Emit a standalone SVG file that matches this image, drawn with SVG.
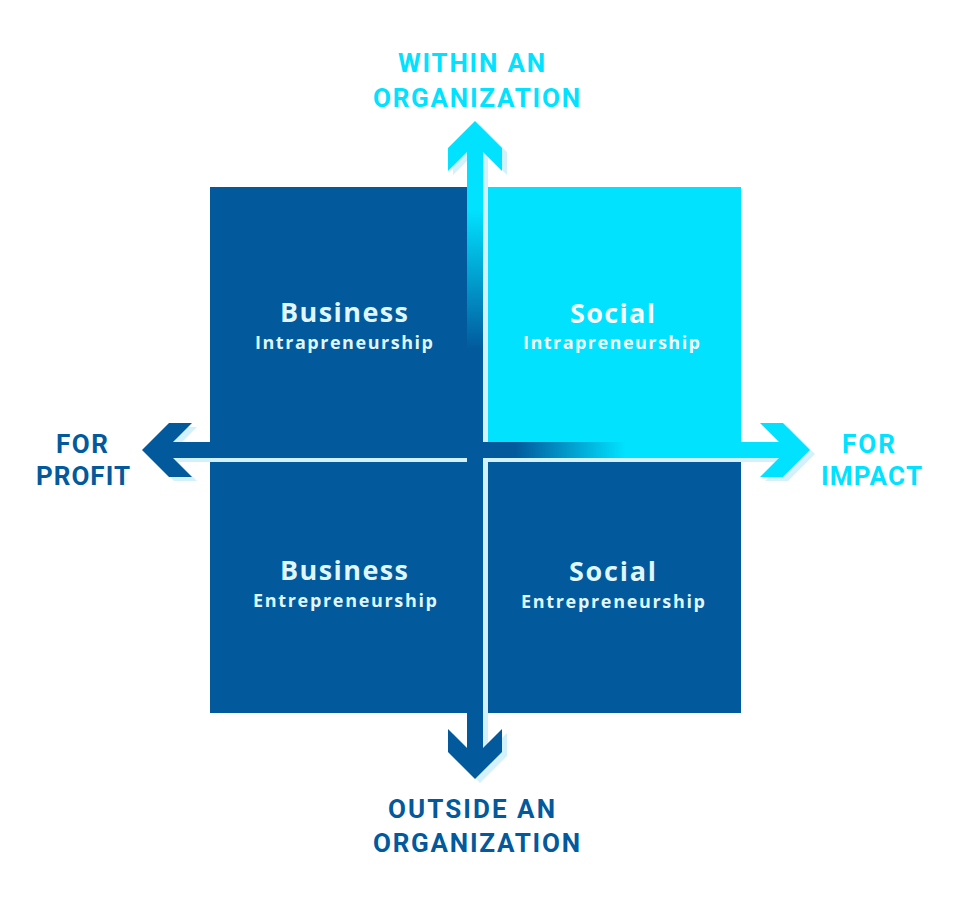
<svg xmlns="http://www.w3.org/2000/svg" width="957" height="907" viewBox="0 0 957 907">
  <defs>
    <linearGradient id="gv" gradientUnits="userSpaceOnUse" x1="0" y1="210" x2="0" y2="350">
      <stop offset="0" stop-color="#00e2ff"/>
      <stop offset="1" stop-color="#02599c"/>
    </linearGradient>
    <linearGradient id="gh" gradientUnits="userSpaceOnUse" x1="515" y1="0" x2="625" y2="0">
      <stop offset="0" stop-color="#02599c"/>
      <stop offset="1" stop-color="#00e2ff"/>
    </linearGradient>
    <polygon id="varrow" points="475,121 502,148 502,171 483,152 483,748 502,729 502,752 475,779 448,752 448,729 467,748 467,152 448,171 448,148"/>
    <polygon id="harrow" points="142,450 169,423 192,423 173,442 779,442 760,423 783,423 810,450 783,477 760,477 779,458 173,458 192,477 169,477"/>
  </defs>
  <style>
    .dark { fill: #02599c; }
    .cyan { fill: #00e2ff; }
    .shadow { fill: #d3f1fa; }
    .lbl { font-family: Roboto, "Liberation Sans", sans-serif; font-weight: 700; font-size: 26px; }
    .lbl-dark { fill: #02599c; }
    .lbl-cyan { fill: #00e2ff; }
    .t1 { font-family: "Open Sans", "Liberation Sans", sans-serif; font-weight: 700; font-size: 27px; }
    .t2 { font-family: "Open Sans", "Liberation Sans", sans-serif; font-weight: 700; font-size: 18px; }
    .on-dark { fill: #dff6ff; }
    .on-cyan { fill: #f4fdff; }
  </style>
  <rect width="957" height="907" fill="#ffffff"/>

  <g id="connectors">
    <g transform="translate(5,4)">
      <use href="#varrow" class="shadow"/>
      <use href="#harrow" class="shadow"/>
    </g>
  </g>

  <g id="node-business-intrapreneurship">
    <rect x="210" y="187" width="257" height="271" class="dark"/>
    <text class="t1 on-dark" x="280" y="322" textLength="128" lengthAdjust="spacing">Business</text>
    <text class="t2 on-dark" x="255" y="349" textLength="178" lengthAdjust="spacing">Intrapreneurship</text>
  </g>
  <g id="node-social-intrapreneurship">
    <rect x="488" y="187" width="253" height="255" class="cyan"/>
    <text class="t1 on-cyan" x="570" y="323" textLength="85" lengthAdjust="spacing">Social</text>
    <text class="t2 on-cyan" x="523" y="349" textLength="177" lengthAdjust="spacing">Intrapreneurship</text>
  </g>
  <g id="node-business-entrepreneurship">
    <rect x="210" y="462" width="257" height="251" class="dark"/>
    <text class="t1 on-dark" x="280" y="580" textLength="128" lengthAdjust="spacing">Business</text>
    <text class="t2 on-dark" x="253" y="607" textLength="184" lengthAdjust="spacing">Entrepreneurship</text>
  </g>
  <g id="node-social-entrepreneurship">
    <rect x="488" y="462" width="253" height="251" class="dark"/>
    <text class="t1 on-dark" x="569" y="581" textLength="87" lengthAdjust="spacing">Social</text>
    <text class="t2 on-dark" x="521" y="608" textLength="184" lengthAdjust="spacing">Entrepreneurship</text>
  </g>

  <g id="axes">
    <use href="#harrow" fill="url(#gh)"/>
    <use href="#varrow" fill="url(#gv)"/>
  </g>

  <g id="label-within">
    <text class="lbl lbl-cyan" x="398" y="72" textLength="147" lengthAdjust="spacing">WITHIN AN</text>
    <text class="lbl lbl-cyan" x="373" y="107" textLength="207" lengthAdjust="spacing">ORGANIZATION</text>
  </g>
  <g id="label-outside">
    <text class="lbl lbl-dark" x="388" y="818" textLength="167" lengthAdjust="spacing">OUTSIDE AN</text>
    <text class="lbl lbl-dark" x="373" y="852" textLength="207" lengthAdjust="spacing">ORGANIZATION</text>
  </g>
  <g id="label-profit">
    <text class="lbl lbl-dark" x="56" y="453" textLength="52" lengthAdjust="spacing">FOR</text>
    <text class="lbl lbl-dark" x="36" y="485" textLength="94" lengthAdjust="spacing">PROFIT</text>
  </g>
  <g id="label-impact">
    <text class="lbl lbl-cyan" x="842" y="453" textLength="53" lengthAdjust="spacing">FOR</text>
    <text class="lbl lbl-cyan" x="821" y="485" textLength="101" lengthAdjust="spacing">IMPACT</text>
  </g>
</svg>
